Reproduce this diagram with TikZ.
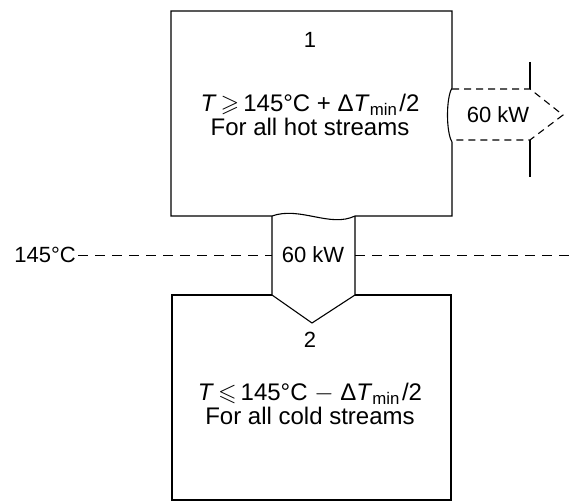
\documentclass[tikz,border=0pt]{standalone}
\usepackage{amssymb}
\usepackage{fontspec}
\setmainfont{Liberation Sans}
\usetikzlibrary{positioning}

\begin{document}
\begin{tikzpicture}[x=1pt, y=-1pt, line join=miter, wall/.style = {draw, line width=1.1pt}, heat/.style = {wall, dash pattern=on 7pt off 5pt}, pinch/.style = {wall, line width=0.9pt, dash pattern=on 10pt off 7pt}, label/.style = {font=\fontsize{22}{24}\selectfont, inner sep=1pt}, rule/.style = {font=\fontsize{24}{24}\selectfont, inner sep=1pt, align=center}]
\useasboundingbox (0,0) rectangle (571,503);

% region above the pinch
\draw[wall] (272,216) -- (171,216) -- (171,11) -- (452,11) -- (452,88)
    .. controls (446,98) and (446,132) .. (452,142) -- (452,216) -- (355,216)
    .. controls (330,228) and (300,206) .. (272,216);
% region below the pinch
\draw[wall] (272,295) -- (172,295) -- (172,500) -- (451,500) -- (451,295) -- (355,295);
% heat flow through the pinch
\draw[wall] (272,216) -- (272,295) -- (312,323) -- (355,295) -- (355,216);
% pinch line
\draw[pinch] (78,255) -- (272,255);
\draw[pinch] (355,255) -- (571,255);
% heat rejected above the pinch
\draw[wall] (530,62) -- (530,89);
\draw[wall] (530,140) -- (530,177);
\draw[heat] (452,89) -- (530,89) -- (563,115) -- (530,140) -- (452,140);

\node[label] (n1) at (310,40) {1};
\node[rule] (hot) at (310,115) {\textit{T}\,$\geqslant$\,145°C + Δ\textit{T}\textsubscript{min}\kern2pt/2\\For all hot streams};
\node[label] (q1) at (313,255) {60 kW};
\node[label] (q2) at (498,115) {60 kW};
\node[label, anchor=east] (tp) at (77,255) {145°C};
\node[label] (n2) at (310,340) {2};
\node[rule] (cold) at (310,404) {\textit{T}\,$\leqslant$\,145°C $-$ Δ\textit{T}\textsubscript{min}\kern2pt/2\\For all cold streams};
\end{tikzpicture}
\end{document}
